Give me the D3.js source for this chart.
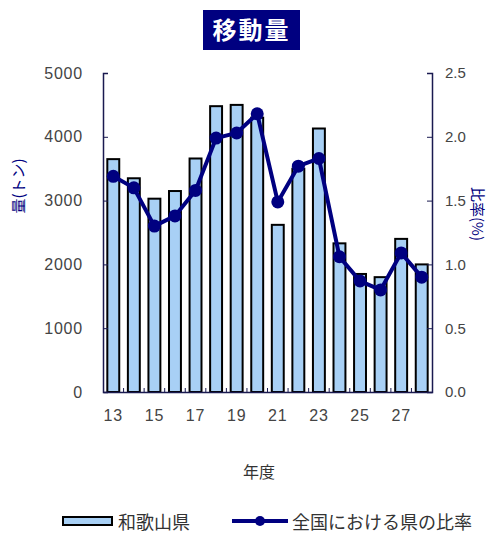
<!DOCTYPE html>
<html><head><meta charset="utf-8">
<script src="https://cdn.jsdelivr.net/npm/d3@7"></script>
<style>
body{margin:0;background:#fff;}
text{font-family:"Liberation Sans","DejaVu Sans",sans-serif;}
.jp{font-family:"Noto Sans CJK JP","Noto Sans",sans-serif;}
</style>
</head><body>
<svg id="c" width="503" height="534"></svg>
<script>
const years = ["13","14","15","16","17","18","19","20","21","22","23","24","25","26","27","28"];
const tonnage = [3650,3350,3030,3150,3660,4480,4500,4300,2620,3500,4130,2330,1850,1800,2400,2000];
const ratio = [1.69,1.60,1.30,1.38,1.58,1.99,2.03,2.18,1.49,1.77,1.83,1.06,0.87,0.80,1.09,0.90];
const leftTicks = [0,1000,2000,3000,4000,5000];
const rightTicks = [0,0.5,1.0,1.5,2.0,2.5];
const xLabels = ["13","15","17","19","21","23","25","27"];

const svg = d3.select("#c");
const L=103, R=432, T=73, B=392;
const navy="#000080", axisCol="#1a1a50", tickText="#444";

const x = d3.scaleBand().domain(years).range([L,R]).paddingInner(0.42).paddingOuter(0.21);
const yL = d3.scaleLinear().domain([0,5000]).range([B,T]);
const yR = d3.scaleLinear().domain([0,2.5]).range([B,T]);

// title
const tg = svg.append("g");
tg.append("rect").attr("x",203).attr("y",10).attr("width",97).attr("height",40).attr("fill",navy);
tg.append("text").attr("class","jp").attr("x",251.5).attr("y",39).attr("text-anchor","middle")
  .attr("fill","#fff").attr("font-size",24).attr("font-weight","bold").attr("letter-spacing",2).text("移動量");

// bars
svg.append("g").selectAll("rect").data(years).join("rect")
  .attr("x",d=>x(d)).attr("width",x.bandwidth())
  .attr("y",(d,i)=>yL(tonnage[i])).attr("height",(d,i)=>B-yL(tonnage[i]))
  .attr("fill","#a8d0f5").attr("stroke","#000").attr("stroke-width",2);

// axes
const gl = svg.append("g").attr("transform",`translate(${L},0)`)
  .call(d3.axisLeft(yL).tickValues(leftTicks).tickSize(-5).tickPadding(20).tickFormat(d3.format("d")));
const gr = svg.append("g").attr("transform",`translate(${R},0)`)
  .call(d3.axisRight(yR).tickValues(rightTicks).tickSize(-5).tickPadding(13).tickFormat(d3.format(".1f")));
const gb = svg.append("g").attr("transform",`translate(0,${B})`)
  .call(d3.axisBottom(x).tickValues(xLabels).tickSize(0).tickPadding(18));
[gl,gr,gb].forEach(g=>{
  g.select(".domain").attr("stroke",axisCol).attr("stroke-width",1.5);
  g.selectAll(".tick line").attr("stroke",axisCol);
  g.selectAll("text").attr("fill",tickText).attr("font-size",16).attr("letter-spacing",0.8)
   .attr("font-family","Liberation Sans, DejaVu Sans, sans-serif");
});
gr.selectAll("text").attr("font-size",15).attr("letter-spacing",0);
// category boundary ticks
svg.append("g").selectAll("line").data(years.slice(1)).join("line")
  .attr("x1",d=>x(d)-x.step()*x.paddingInner()/2).attr("x2",d=>x(d)-x.step()*x.paddingInner()/2)
  .attr("y1",B).attr("y2",B-4).attr("stroke",axisCol).attr("stroke-width",1);

// line
const line = d3.line().x((d,i)=>x(years[i])+x.bandwidth()/2).y(d=>yR(d));
svg.append("path").datum(ratio).attr("d",line).attr("fill","none")
  .attr("stroke",navy).attr("stroke-width",4);
svg.append("g").selectAll("circle").data(ratio).join("circle")
  .attr("cx",(d,i)=>x(years[i])+x.bandwidth()/2).attr("cy",d=>yR(d)).attr("r",6.5).attr("fill",navy);

// axis titles
svg.append("text").attr("class","jp").attr("transform","translate(24,186) rotate(-90)")
  .attr("text-anchor","middle").attr("fill",navy).attr("font-size",15).text("量(トン)");
svg.append("text").attr("class","jp").attr("transform","translate(472,214) rotate(90)")
  .attr("text-anchor","middle").attr("fill",navy).attr("font-size",15).text("比率(%)");
svg.append("text").attr("class","jp").attr("x",259).attr("y",478).attr("text-anchor","middle")
  .attr("fill","#333").attr("font-size",16).text("年度");

// legend
const lg = svg.append("g");
lg.append("rect").attr("x",63).attr("y",517).attr("width",49).attr("height",8)
  .attr("fill","#a8d0f5").attr("stroke","#000").attr("stroke-width",2);
lg.append("text").attr("class","jp").attr("x",118).attr("y",529).attr("fill","#333").attr("font-size",18).text("和歌山県");
lg.append("line").attr("x1",232).attr("x2",288).attr("y1",521).attr("y2",521).attr("stroke",navy).attr("stroke-width",4);
lg.append("circle").attr("cx",260).attr("cy",521).attr("r",5).attr("fill",navy);
lg.append("text").attr("class","jp").attr("x",292).attr("y",529).attr("fill","#333").attr("font-size",18).text("全国における県の比率");
</script>
</body></html>
